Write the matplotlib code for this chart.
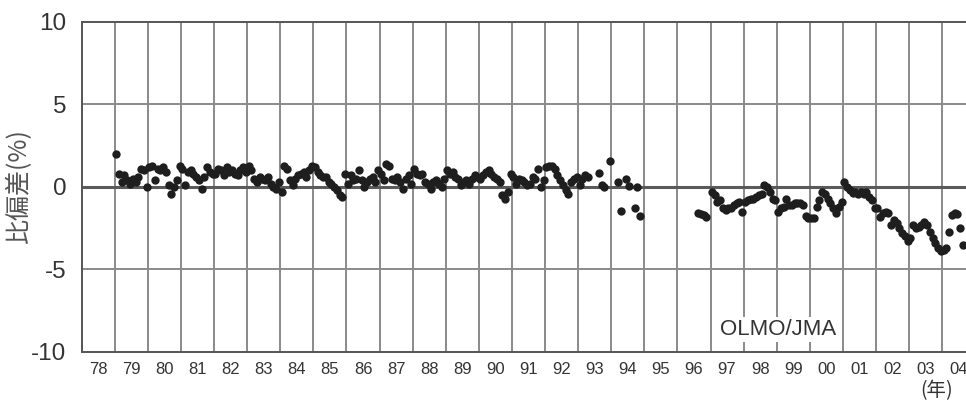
import numpy as np
import matplotlib
matplotlib.use("Agg")
import matplotlib.pyplot as plt

nan = np.nan
# Monthly relative deviation (%) per year, Jan..Dec (NaN = no data)
d1979 = [2.0, 0.8, 0.3, 0.7, 0.4, 0.2, 0.5, 0.3, 0.6, 1.1, 1.0, 0.0]
d1980 = [1.2, 1.3, 0.4, 1.1, 1.0, 1.2, 0.9, 0.1, -0.4, 0.0, 0.4, 1.3]
d1981 = [1.1, 0.1, 0.9, 1.0, 0.8, 0.6, 0.4, -0.1, 0.6, 1.2, 0.9, 0.8]
d1982 = [0.8, 1.1, 1.0, 0.7, 1.2, 0.9, 1.0, 0.8, 0.7, 1.0, 1.2, 0.9]
d1983 = [1.3, 1.0, 0.5, 0.3, 0.6, 0.5, 0.4, 0.6, 0.2, 0.0, -0.1, 0.3]
d1984 = [-0.3, 1.3, 1.1, 0.4, 0.1, 0.5, 0.7, 0.8, 0.9, 0.6, 1.0, 1.3]
d1985 = [1.2, 0.9, 0.7, 0.6, 0.6, 0.3, 0.2, 0.0, -0.2, -0.5, -0.6, 0.8]
d1986 = [0.2, 0.7, 0.4, 0.5, 1.0, 0.4, 0.0, 0.3, 0.5, 0.6, 0.3, 1.0]
d1987 = [0.8, 0.4, 1.4, 1.3, 0.5, 0.4, 0.6, 0.3, -0.1, 0.5, 0.7, 0.2]
d1988 = [1.1, 0.8, 0.7, 0.8, 0.3, 0.2, -0.1, 0.3, 0.4, 0.2, 0.0, 0.5]
d1989 = [1.0, 0.8, 0.9, 0.6, 0.5, 0.1, 0.3, 0.4, 0.2, 0.5, 0.7, 0.6]
d1990 = [0.5, 0.7, 0.9, 1.0, 0.8, 0.6, 0.5, 0.3, -0.5, -0.7, -0.3, 0.8]
d1991 = [0.6, 0.2, 0.5, 0.4, 0.3, 0.1, 0.2, 0.6, 0.5, 1.1, 0.0, 0.4]
d1992 = [1.2, 1.3, 1.3, 1.1, 0.7, 0.4, 0.1, -0.2, -0.4, 0.3, 0.5, 0.6]
d1993 = [0.1, 0.5, 0.7, 0.6, nan, nan, nan, 0.85, 0.1, 0.0, nan, 1.6]
d1994 = [nan, nan, 0.3, -1.45, nan, 0.5, 0.05, nan, -1.3, 0.0, -1.75, nan]
d1995 = [nan] * 12
d1996 = [nan, nan, nan, nan, nan, nan, nan, -1.55, -1.65, -1.7, -1.8, nan]
d1997 = [-0.3, -0.5, -0.9, -0.8, -1.3, -1.4, -1.3, -1.3, -1.1, -1.0, -0.9, -1.5]
d1998 = [-0.9, -0.8, -0.7, -0.75, -0.6, -0.5, -0.4, 0.1, 0.0, -0.3, -0.7, -0.8]
d1999 = [-1.5, -1.3, -1.2, -0.7, -1.1, -1.1, -1.0, -0.95, -1.0, -1.1, -1.75, -1.85]
d2000 = [-1.85, -1.85, -1.2, -0.8, -0.3, -0.4, -0.7, -1.0, -1.3, -1.55, -1.2, -0.9]
d2001 = [0.3, 0.0, -0.2, -0.35, -0.3, -0.4, -0.3, -0.4, -0.3, -0.6, -0.8, -1.3]
d2002 = [-1.3, -1.8, -1.6, -1.5, -1.6, -2.3, -2.0, -2.2, -2.5, -2.8, -3.0, -3.3]
d2003 = [-3.1, -2.3, -2.5, -2.4, -2.3, -2.1, -2.3, -2.7, -3.1, -3.4, -3.7, -3.9]
d2004 = [-3.8, -3.7, -2.7, -1.7, -1.55, -1.65, -2.5, -3.5]

series = {
    1979: d1979, 1980: d1980, 1981: d1981, 1982: d1982, 1983: d1983,
    1984: d1984, 1985: d1985, 1986: d1986, 1987: d1987, 1988: d1988,
    1989: d1989, 1990: d1990, 1991: d1991, 1992: d1992, 1993: d1993,
    1994: d1994, 1995: d1995, 1996: d1996, 1997: d1997, 1998: d1998,
    1999: d1999, 2000: d2000, 2001: d2001, 2002: d2002, 2003: d2003,
    2004: d2004,
}

year_labels = ["78", "79", "80", "81", "82", "83", "84", "85", "86", "87",
               "88", "89", "90", "91", "92", "93", "94", "95", "96", "97",
               "98", "99", "00", "01", "02", "03", "04"]
y_ticks = [10, 5, 0, -5, -10]

t_list, v_list = [], []
for yr, vals in series.items():
    for m, v in enumerate(vals):
        t_list.append(yr + (m + 0.5) / 12.0)
        v_list.append(v)
t = np.array(t_list)
v = np.array(v_list, dtype=float)

plt.rcParams['font.family'] = ['Liberation Sans', 'DejaVu Sans']

fig = plt.figure(figsize=(9.66, 4.05), dpi=100)
ax = fig.add_axes([0.0846, 0.1309, 1.0 - 0.0846, 0.9457 - 0.1309])

gcol = '#8a8a8a'
start_year = 1978
for i in range(len(year_labels) + 1):
    ax.axvline(start_year + i, color=gcol, lw=1.4, zorder=1)
for yv in [5, -5]:
    ax.axhline(yv, color=gcol, lw=1.4, zorder=1)
ax.axhline(0, color='#5a5a5a', lw=2.2, zorder=1)

ax.plot(t, v, 'o', color='#1e1e1e', markersize=6.0, markeredgewidth=0, zorder=3)

ax.set_xlim(1978, 2004.72)
ax.set_ylim(-10, 10)

ax.set_xticks([start_year + i + 0.5 for i in range(len(year_labels))])
ax.set_xticklabels(year_labels, fontsize=12, color='#333333',
                   family=['Liberation Sans Narrow', 'Liberation Sans'])
ax.set_yticks(y_ticks)
ax.set_yticklabels([str(y) for y in y_ticks], fontsize=17.5, color='#333333')
ax.tick_params(axis='both', length=0)
ax.tick_params(axis='x', pad=7)
ax.tick_params(axis='y', pad=11)

for s in ['left', 'bottom', 'top']:
    ax.spines[s].set_color('#555555')
    ax.spines[s].set_linewidth(1.4)
ax.spines['right'].set_visible(False)

ax.set_ylabel('比偏差(%)', fontsize=18, color='#555555', labelpad=-1,
              family=['Noto Sans CJK JP', 'DejaVu Sans'])

ax.text(0.787, 0.067, 'OLMO/JMA', transform=ax.transAxes, fontsize=16,
        color='#333333', ha='center', va='center', zorder=4,
        bbox=dict(facecolor='white', edgecolor='none', pad=1.5))

fig.text(0.97, 0.035, '(年)', fontsize=14, color='#333333', ha='center', va='center',
         family=['Noto Sans CJK JP', 'DejaVu Sans'])

fig.savefig('out.png', dpi=100, facecolor='white')
